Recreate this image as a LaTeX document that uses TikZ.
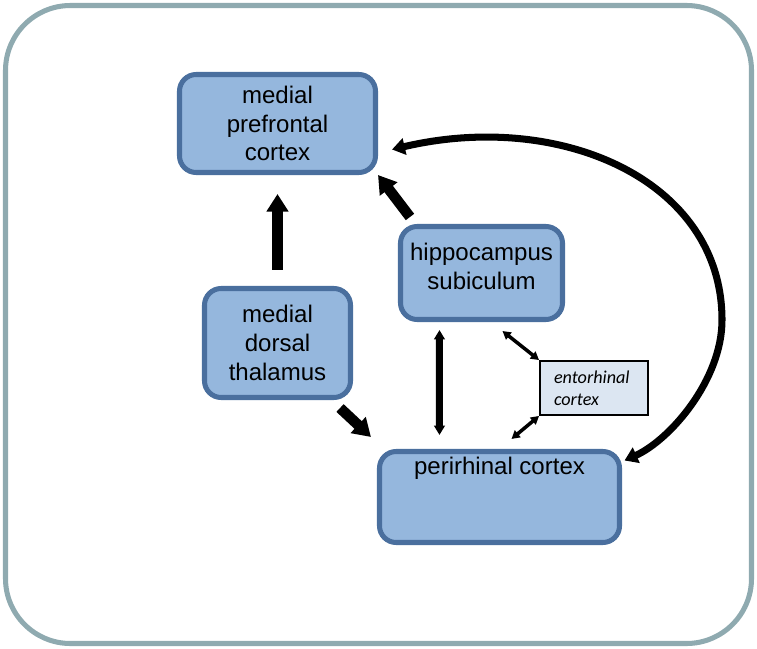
\documentclass[tikz,border=0pt]{standalone}
\usepackage{fontspec}
\setmainfont{Liberation Sans}
\newfontfamily\entofont{Carlito}
\usepackage{tikz}
\usetikzlibrary{calc, arrows.meta, positioning}
\definecolor{boxfill}{RGB}{149, 183, 221}
\definecolor{boxline}{RGB}{74, 111, 158}
\definecolor{entofill}{RGB}{220, 230, 242}
\definecolor{framecol}{RGB}{143, 170, 176}
\tikzset{
    regionnode/.style = {draw=boxline, fill=boxfill, rectangle, rounded corners=0.5cm, line width=4.3pt,
      inner sep = 0em, align=center, font=\fontsize{20.5}{24.5}\selectfont},
    entonode/.style = {draw=black, fill=entofill, rectangle, line width=1.6pt, inner sep = 0em,
      align=left, text width=2.4cm, font=\entofont\itshape\fontsize{15.5}{18.5}\selectfont},
    bigconnect/.style = {black, line width=9pt, -{Triangle[length=15pt, width=18pt]}},
    midconnect/.style = {black, line width=6pt, {Triangle[length=8pt, width=9pt]}-{Triangle[length=8pt, width=9pt]}},
    thinconnect/.style = {black, line width=3pt, {Triangle[length=7pt, width=7.5pt]}-{Triangle[length=7pt, width=7.5pt]}},
    curveconnect/.style = {black, line width=6pt, {Triangle[length=11pt, width=14pt]}-{Triangle[length=11pt, width=14pt]}}
}

\begin{document}
\begin{tikzpicture}[x=0.03cm, y=-0.03cm]
    \useasboundingbox (0,0) rectangle (757,649);
    \draw [framecol, line width=4.3pt, rounded corners=1.95cm] (5.5,5.5) rectangle (751.5,643.5);

    \node [regionnode, name=mpfc, minimum width=5.88cm, minimum height=2.94cm] at (277.5,123.5) {medial\\prefrontal\\cortex};
    \node [regionnode, name=hippo, minimum width=4.86cm, minimum height=2.79cm] at (481.5,273) {hippocampus\\subiculum\\[-13pt]};
    \node [regionnode, name=mdt, minimum width=4.38cm, minimum height=3.27cm] at (277.5,343) {medial\\dorsal\\thalamus};
    \node [regionnode, name=peri, minimum width=7.2cm, minimum height=2.73cm] at (499.5,497) {};
    \node [font=\fontsize{20.5}{24.5}\selectfont, name=perilabel, below=0.12cm of peri.north] {perirhinal cortex};
    \node [entonode, name=ento, minimum width=3.24cm, minimum height=1.62cm] at (594,388) {entorhinal\\cortex};

    \draw [bigconnect] ($(mdt.north)+(0,-16)$) -- ($(mpfc.south)+(0,19)$);
    \draw [bigconnect] ($(hippo.north west)+(12,-7)$) -- (mpfc.south east);
    \draw [bigconnect] ($(mdt.south east)+(-13,8)$) -- ($(peri.north west)+(-6,-12)$);
    \draw [midconnect] ($(hippo.south west)+(41.5,8)$) -- ($(peri.north west)+(62.5,-14)$);
    \draw [thinconnect] ($(hippo.south west)+(104.5,9)$) -- (ento.north west);
    \draw [thinconnect] (ento.south west) -- ($(peri.north west)+(134.5,-10)$);
    \draw [curveconnect] ($(mpfc.east)+(14,26)$) .. controls (560,110) and (722,180) .. (722,320)
        .. controls (722,380) and (670,440) .. ($(peri.north east)+(2.5,11.5)$);
\end{tikzpicture}
\end{document}
